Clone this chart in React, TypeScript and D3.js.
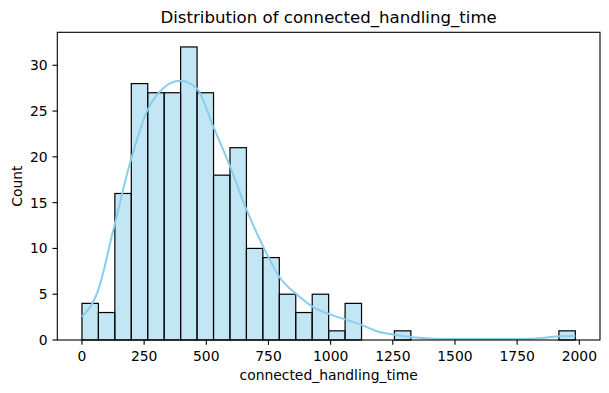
import React from "react";
import * as d3 from "d3";

const binStart = 0;
const binEnd = 1984;
const binCount = 30;
const counts = [4, 3, 16, 28, 27, 27, 32, 27, 18, 21, 10, 9, 5, 3, 5, 1, 4, 0, 0, 1, 0, 0, 0, 0, 0, 0, 0, 0, 0, 1];
const kdeX = [0, 66, 126, 193, 267, 327, 394, 461, 528, 595, 662, 729, 796, 863, 930, 997, 1064, 1118, 1198, 1251, 1331, 1412, 1500, 1650, 1814, 1915, 1984];
const kdeY = [2.55, 5.5, 12, 19.3, 25.3, 27.5, 28.3, 27.5, 23.3, 19.0, 14.2, 10.2, 6.8, 5.0, 3.6, 2.8, 2.2, 1.7, 0.85, 0.6, 0.3, 0.15, 0.1, 0.1, 0.15, 0.4, 0.45];
const xTicks = [0, 250, 500, 750, 1000, 1250, 1500, 1750, 2000];
const yTicks = [0, 5, 10, 15, 20, 25, 30];
const title = "Distribution of connected_handling_time";
const xLabel = "connected_handling_time";
const yLabel = "Count";

export default function App() {
  const W = 609, H = 393;
  const L = 57.3, R = 600, T = 32.3, B = 340;
  const span = binEnd - binStart;
  const x = d3.scaleLinear().domain([binStart - span * 0.05, binEnd + span * 0.05]).range([L, R]);
  const y = d3.scaleLinear().domain([0, 32 * 1.05]).range([B, T]);
  const bw = span / binCount;
  const line = d3.line<number>().x((_, i) => x(kdeX[i])).y((d) => y(d)).curve(d3.curveMonotoneX);
  const font = "DejaVu Sans, sans-serif";
  const fs = 13.9;
  const tl = 4.86;
  return (
    <svg width={W} height={H} style={{ position: "absolute", left: 0, top: 0, background: "#fff" }} fontFamily={font}>
      <rect x={0} y={0} width={W} height={H} fill="#fff" />
      {counts.map((c, i) =>
        c > 0 ? (
          <rect key={i} x={x(binStart + i * bw)} y={y(c)} width={x(binStart + (i + 1) * bw) - x(binStart + i * bw)} height={y(0) - y(c)}
            fill="rgba(135,206,235,0.5)" stroke="#000" strokeWidth={1.2} />
        ) : null
      )}
      <path d={line(kdeY) || ""} fill="none" stroke="#87ceeb" strokeWidth={2} />
      <rect x={L} y={T} width={R - L} height={B - T} fill="none" stroke="#000" strokeWidth={1.1} />
      {xTicks.map((t) => (
        <g key={t}>
          <line x1={x(t)} x2={x(t)} y1={B} y2={B + tl} stroke="#000" strokeWidth={1.1} />
          <text x={x(t)} y={360.5} fontSize={fs} textAnchor="middle" fill="#000">{t}</text>
        </g>
      ))}
      {yTicks.map((t) => (
        <g key={t}>
          <line x1={L - tl} x2={L} y1={y(t)} y2={y(t)} stroke="#000" strokeWidth={1.1} />
          <text x={L - 2 * tl} y={y(t)} dy="0.36em" fontSize={fs} textAnchor="end" fill="#000">{t}</text>
        </g>
      ))}
      <text x={(L + R) / 2} y={22.5} fontSize={16.6} textAnchor="middle" fill="#000">{title}</text>
      <text x={(L + R) / 2} y={380} fontSize={fs} textAnchor="middle" fill="#000">{xLabel}</text>
      <text transform={`translate(21.7,${(T + B) / 2}) rotate(-90)`} fontSize={fs} textAnchor="middle" fill="#000">{yLabel}</text>
    </svg>
  );
}
